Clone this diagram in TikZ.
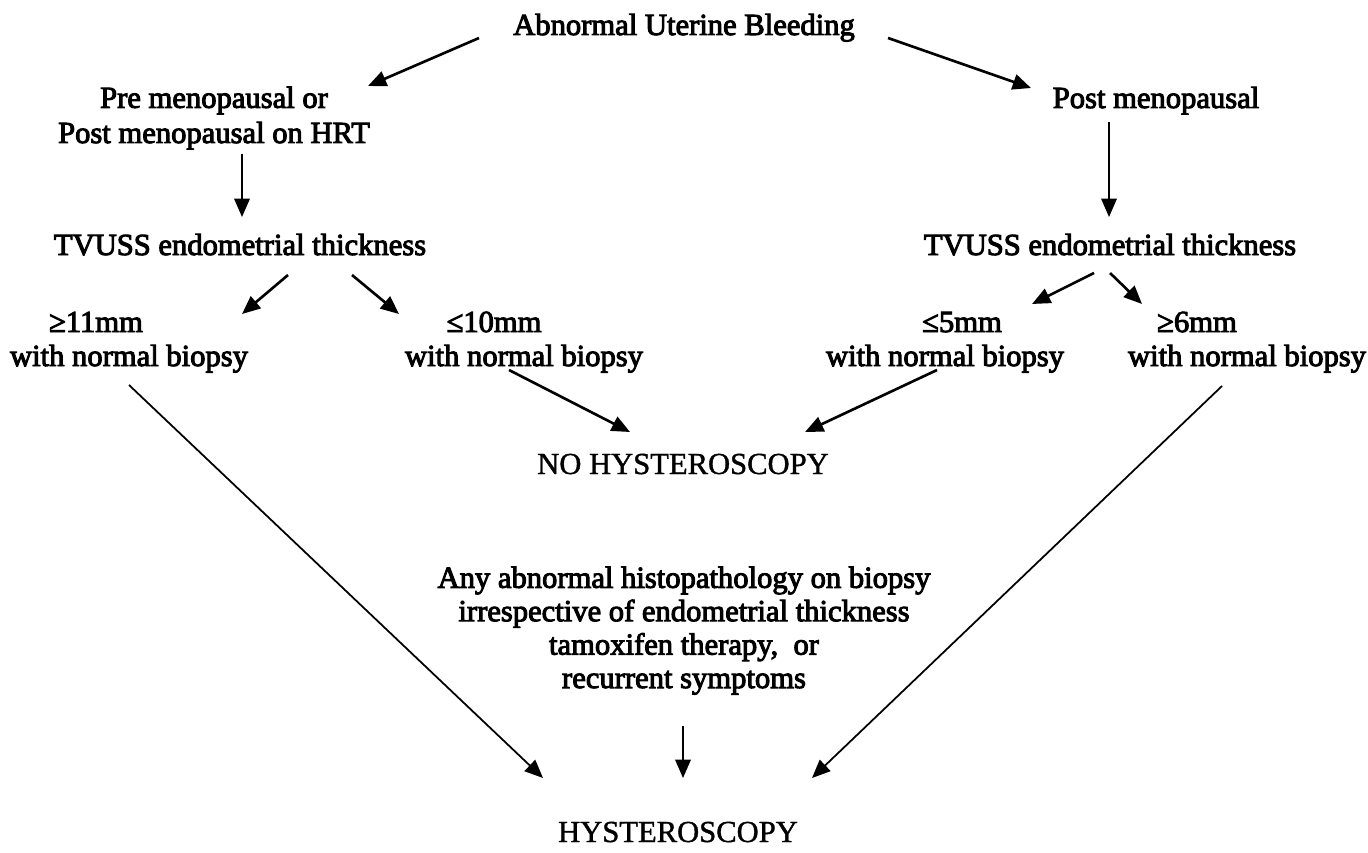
\documentclass[tikz,border=0pt]{standalone}
\usepackage{fontspec}
\setmainfont{Liberation Serif}
\newfontfamily\heavy{Liberation Serif}[UprightFeatures={FakeBold=3.2}]
\newfontfamily\medium{Liberation Serif}[UprightFeatures={FakeBold=1.2}]
\usetikzlibrary{arrows.meta,calc}
\begin{document}
\begin{tikzpicture}[x=0.01cm,y=-0.01cm,
  lbl/.style={inner sep=0pt, anchor=base, align=center, font=\heavy\fontsize{8.7}{10}\selectfont},
  midlbl/.style={inner sep=0pt, anchor=base, align=center, font=\heavy\fontsize{8.7}{9.5}\selectfont},
  plainlbl/.style={inner sep=0pt, anchor=base, align=center, font=\medium\fontsize{8.7}{10}\selectfont},
  arr/.style={-{Triangle[length=5.2pt,width=4.4pt]}, line width=0.75pt},
  thinarr/.style={-{Triangle[length=5.2pt,width=4.4pt]}, line width=0.5pt}]
\clip (0,0) rectangle (1368,852);
\useasboundingbox (0,0) rectangle (1368,852);

\node[lbl] (t) at (684,35) {Abnormal Uterine Bleeding};
\node[lbl] (pre) at (214,143) {Pre menopausal or\\Post menopausal on HRT};
\node[lbl] (post) at (1156,108) {Post menopausal};
\node[lbl] (tvl) at (240,255) {TVUSS endometrial thickness};
\node[lbl] (tvr) at (1110,255) {TVUSS endometrial thickness};
\node[lbl] (ge11) at (96,332) {≥11mm};
\node[lbl] (wnb1) at (129,366) {with normal biopsy};
\node[lbl] (le10) at (494,332) {≤10mm};
\node[lbl] (wnb2) at (524,366) {with normal biopsy};
\node[lbl] (le5) at (962,332) {≤5mm};
\node[lbl] (wnb3) at (945,366) {with normal biopsy};
\node[lbl] (ge6) at (1197,332) {≥6mm};
\node[lbl] (wnb4) at (1247,366) {with normal biopsy};
\node[plainlbl] (noh) at (683,474) {NO HYSTEROSCOPY};
\node[midlbl] (mid) at (684,688) {Any abnormal histopathology on biopsy\\irrespective of endometrial thickness\\tamoxifen therapy,\ \ or\\recurrent symptoms};
\node[plainlbl] (hys) at (678,842) {HYSTEROSCOPY};

\draw[arr] ($(t.base)+(-205,3)$) -- ($(post.base)+(-788,-22)$);
\draw[arr] ($(t.base)+(204,3)$) -- ($(post.base)+(-125,-20)$);
\draw[thinarr] ($(pre.base)+(28,11)$) -- ($(tvl.base)+(2,-38)$);
\draw[thinarr] ($(post.base)+(-47,14)$) -- ($(tvr.base)+(-1,-38)$);
\draw[arr] ($(tvl.base)+(48,20)$) -- ($(ge11.base)+(146,-18)$);
\draw[arr] ($(tvl.base)+(112,20)$) -- ($(le10.base)+(-95,-18)$);
\draw[arr] ($(tvr.base)+(-16,18)$) -- ($(le5.base)+(70,-28)$);
\draw[arr] ($(tvr.base)+(0,18)$) -- ($(ge6.base)+(-55,-28)$);
\draw[arr] ($(wnb2.base)+(-15,4)$) -- ($(noh.base)+(-53,-42)$);
\draw[arr] ($(wnb3.base)+(-8,4)$) -- ($(noh.base)+(122,-42)$);
\draw[thinarr] ($(wnb1.base)+(0,19)$) -- ($(hys.base)+(-135,-64)$);
\draw[thinarr] ($(wnb4.base)+(-25,20)$) -- ($(hys.base)+(134,-64)$);
\draw[thinarr] ($(mid.base)+(-1,38)$) -- ($(hys.base)+(5,-64)$);
\end{tikzpicture}
\end{document}
